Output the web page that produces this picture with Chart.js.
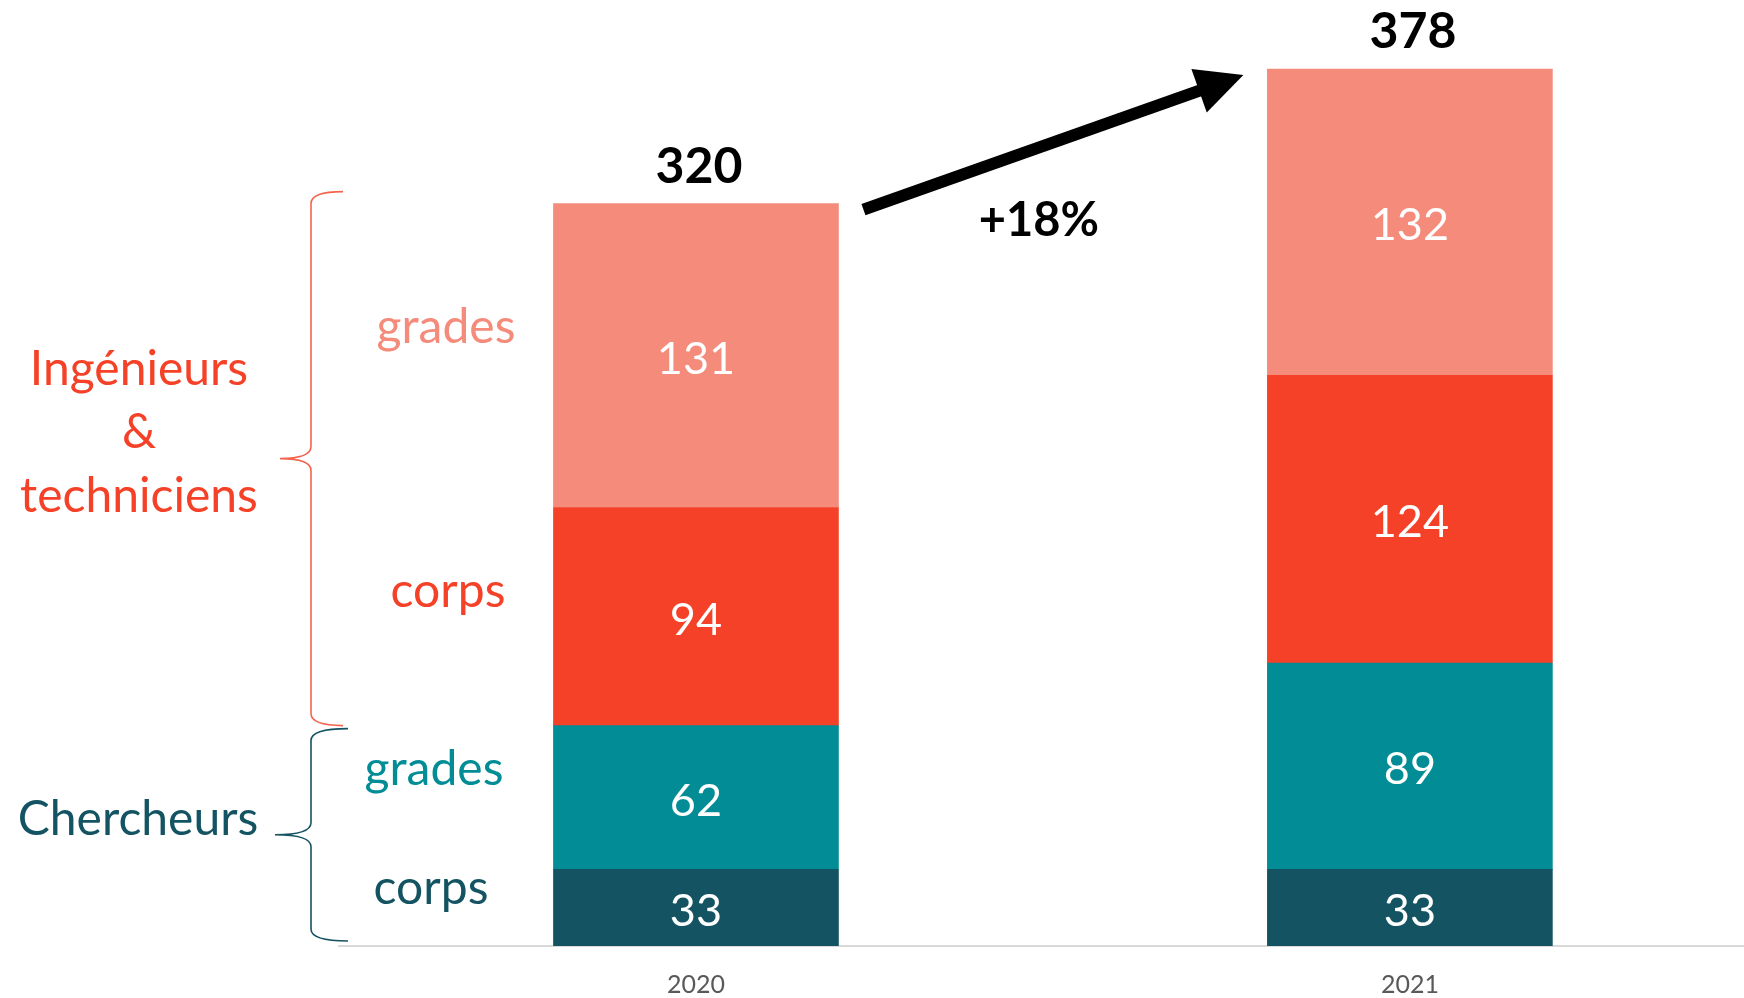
<!DOCTYPE html>
<html><head><meta charset="utf-8">
<script src="https://cdn.jsdelivr.net/npm/chart.js@4/dist/chart.umd.min.js"></script>
<style>html,body{margin:0;padding:0;background:#fff;overflow:hidden}#wrap{width:1744px;height:998px;position:relative}</style>
</head><body><div id="wrap"><canvas id="c"></canvas></div>
<script>
// ---- data ----
const years = ['2020', '2021'];
const chercheursCorps = [33, 33];
const chercheursGrades = [62, 89];
const ingTechCorps = [94, 124];
const ingTechGrades = [131, 132];
const seriesNames = ['Chercheurs – corps', 'Chercheurs – grades', 'Ingénieurs & techniciens – corps', 'Ingénieurs & techniciens – grades'];
const groupLabels = ['Ingénieurs', '&', 'techniciens'];
const groupLabel2 = 'Chercheurs';
const subLabels = ['grades', 'corps', 'grades', 'corps'];

// ---- styles ----
const COL = { pink: '#F48B7B', red: '#F44127', teal: '#028D96', dark: '#145462' };
const FONT = 'Lato';

const seriesValues = [chercheursCorps, chercheursGrades, ingTechCorps, ingTechGrades];
const seriesColors = [COL.dark, COL.teal, COL.red, COL.pink];
const totals = years.map((_, i) => seriesValues.reduce((s, a) => s + a[i], 0));

const datasets = seriesValues.map((arr, k) => ({
  label: seriesNames[k],
  data: years.map((y, i) => ({ x: Number(y), y: arr[i] })),
  backgroundColor: seriesColors[k],
  borderWidth: 0,
  stack: 's',
  barThickness: 285
}));

const overlay = {
  id: 'overlay',
  afterDatasetsDraw(chart) {
    const ctx = chart.ctx;
    const ys = chart.scales.y;
    ctx.save();
    // segment values
    ctx.fillStyle = '#ffffff';
    ctx.font = `45px ${FONT}`;
    ctx.textAlign = 'center';
    ctx.textBaseline = 'middle';
    chart.data.datasets.forEach((ds, k) => {
      const meta = chart.getDatasetMeta(k);
      meta.data.forEach((el, i) => {
        ctx.fillText(String(seriesValues[k][i]), el.x, (el.y + el.base) / 2 + 3.5);
      });
    });
    // totals
    const top = chart.getDatasetMeta(seriesValues.length - 1).data;
    ctx.fillStyle = '#000';
    ctx.font = `bold 50px ${FONT}`;
    top.forEach((el, i) => ctx.fillText(String(totals[i]), el.x + 3, el.y - 37));
    // arrow
    const half = top[0].width / 2;
    const x0 = top[0].x + half + 25, y0 = top[0].y + 6;
    const x1 = top[1].x - half - 24, y1 = top[1].y + 6;
    const ang = Math.atan2(y1 - y0, x1 - x0);
    const headLen = 47, headHalf = 23, shaft = 12;
    const bx = x1 - headLen * Math.cos(ang), by = y1 - headLen * Math.sin(ang);
    ctx.strokeStyle = '#000';
    ctx.lineWidth = shaft;
    ctx.lineCap = 'butt';
    ctx.beginPath(); ctx.moveTo(x0, y0); ctx.lineTo(bx + 2 * Math.cos(ang), by + 2 * Math.sin(ang)); ctx.stroke();
    ctx.fillStyle = '#000';
    ctx.beginPath();
    ctx.moveTo(x1, y1);
    ctx.lineTo(bx + headHalf * Math.sin(ang), by - headHalf * Math.cos(ang));
    ctx.lineTo(bx - headHalf * Math.sin(ang), by + headHalf * Math.cos(ang));
    ctx.closePath(); ctx.fill();
    // growth
    const pct = Math.round((totals[1] / totals[0] - 1) * 100);
    ctx.font = `bold 47px ${FONT}`;
    ctx.fillText('+' + pct + '%', (top[0].x + top[1].x) / 2 - 14, top[0].y + 17);

    // left group labels
    ctx.textBaseline = 'alphabetic';
    ctx.font = `48px ${FONT}`;
    ctx.fillStyle = COL.red;
    const gy = [385, 448, 512];
    groupLabels.forEach((t, i) => ctx.fillText(t, 139, gy[i]));
    ctx.fillStyle = COL.dark;
    ctx.fillText(groupLabel2, 138, 835);
    const subPos = [[446, 343, COL.pink], [448, 607, COL.red], [434, 785, COL.teal], [431, 904, COL.dark]];
    subLabels.forEach((t, i) => { ctx.fillStyle = subPos[i][2]; ctx.fillText(t, subPos[i][0], subPos[i][1]); });

    // braces
    function brace(x, yTop, yBot, tipX, midX, color) {
      const mid = (yTop + yBot) / 2, r = 12;
      ctx.strokeStyle = color; ctx.lineWidth = 1.6;
      ctx.beginPath();
      ctx.moveTo(tipX, yTop);
      ctx.quadraticCurveTo(x, yTop, x, yTop + r);
      ctx.lineTo(x, mid - r);
      ctx.quadraticCurveTo(x, mid, midX, mid);
      ctx.quadraticCurveTo(x, mid, x, mid + r);
      ctx.lineTo(x, yBot - r);
      ctx.quadraticCurveTo(x, yBot, tipX, yBot);
      ctx.stroke();
    }
    const split = ys.getPixelForValue(chercheursCorps[0] + chercheursGrades[0]);
    brace(311, ys.getPixelForValue(totals[0]) - 12, split, 343, 280, '#F4654F');
    brace(311, split + 3, ys.getPixelForValue(0) - 5, 348, 275, COL.dark);
    ctx.restore();
  }
};

new Chart(document.getElementById('c'), {
  type: 'bar',
  data: { datasets },
  options: {
    responsive: true,
    maintainAspectRatio: false,
    animation: false,
    layout: { padding: { left: 339, top: 18, right: 0, bottom: 0 } },
    plugins: { legend: { display: false }, tooltip: { enabled: false } },
    scales: {
      x: {
        type: 'linear',
        offset: false,
        bounds: 'data',
        min: Number(years[0]) - 0.5,
        max: Number(years[1]) + 0.468,
        grid: { display: false, drawTicks: false, offset: false },
        border: { display: true, color: '#D9D9D9', width: 2 },
        afterBuildTicks: (s) => { s.ticks = years.map(y => ({ value: Number(y) })); },
        afterFit: (s) => { s.height = 52; },
        ticks: {
          autoSkip: false, maxRotation: 0, padding: 24,
          color: '#595959', font: { family: FONT, size: 25 },
          callback: (v) => String(v)
        }
      },
      y: { display: false, stacked: true, min: 0, max: 400 }
    }
  },
  plugins: [overlay]
});
</script></body></html>
